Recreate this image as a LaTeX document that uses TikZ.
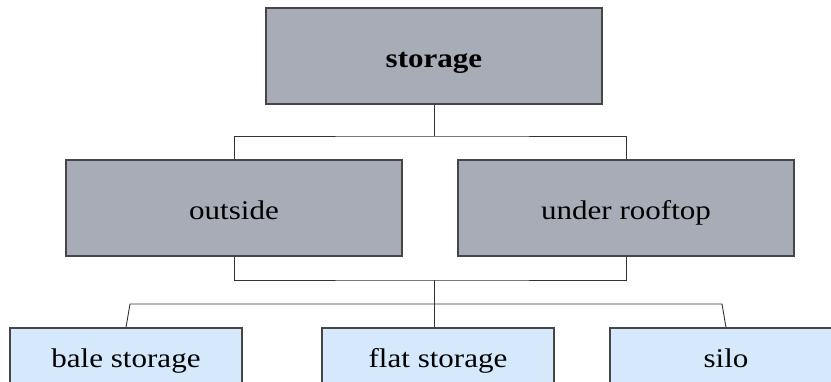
\documentclass[tikz,border=0pt]{standalone}
\usepackage{fontspec}
\setmainfont[FakeStretch=1.15]{Liberation Serif}
\definecolor{greyfill}{RGB}{167,172,183}
\definecolor{bluefill}{RGB}{213,232,252}
\definecolor{edgecol}{RGB}{70,70,70}
\definecolor{linecol}{RGB}{50,50,50}
\begin{document}
\begin{tikzpicture}[x=1pt,y=-1pt,
  box/.style={draw=edgecol,line width=1.1pt,inner sep=0pt,text height=23pt,text depth=0pt,
    font=\fontsize{27}{32}\selectfont},
  greybox/.style={box,fill=greyfill,minimum width=336pt,minimum height=96pt},
  bluebox/.style={box,fill=bluefill,minimum width=232pt,minimum height=55pt},
  conn/.style={draw=linecol,line width=0.9pt}]
\useasboundingbox (0,0) rectangle (831,381);
\clip (0,0) rectangle (831,381);
\node[greybox,font=\fontsize{27}{32}\selectfont\bfseries] (storage) at (434,56) {storage};
\node[greybox] (outside) at (234,208) {outside};
\node[greybox] (rooftop) at (626,208) {under rooftop};
\node[bluebox] (bale) at (126,355.5) {bale storage};
\node[bluebox] (flat) at (438,355.5) {flat storage};
\node[bluebox] (silo) at (726,355.5) {silo};
\coordinate (j1) at (434,136);
\coordinate (j2) at (434,280);
\coordinate (hl) at (130,304);
\coordinate (hr) at (722,304);
\draw[conn] (storage.south) -- (j1);
\draw[conn] (outside.north) |- (j1) -| (rooftop.north);
\draw[conn] (outside.south) |- (j2) -| (rooftop.south);
\draw[conn] (j2) -- (j2 |- flat.north);
\draw[conn] (bale.north) -- (hl) -- (hr) -- (silo.north);
\end{tikzpicture}
\end{document}
